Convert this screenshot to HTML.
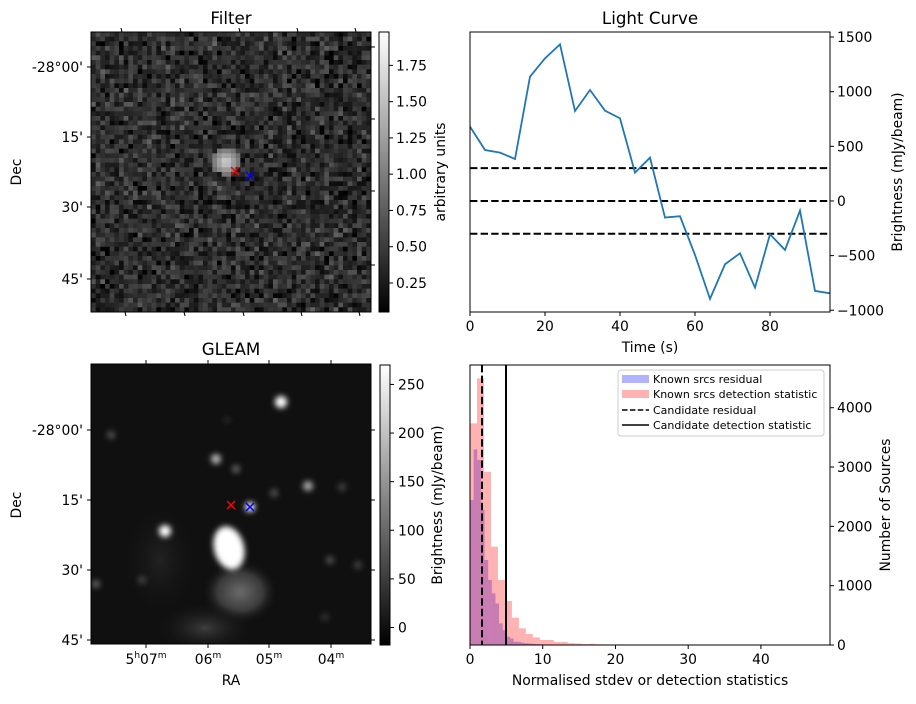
<!DOCTYPE html>
<html><head><meta charset="utf-8"><style>
body{margin:0;background:#fff;}
svg text{font-family:"DejaVu Sans","Liberation Sans",sans-serif;fill:#000;}
</style></head><body>
<svg id="fig" width="916" height="699" xmlns="http://www.w3.org/2000/svg">
<defs>
<linearGradient id="cbg" x1="0" y1="1" x2="0" y2="0"><stop offset="0" stop-color="#000"/><stop offset="1" stop-color="#fff"/></linearGradient>
<filter id="blur2" x="-50%" y="-50%" width="200%" height="200%"><feGaussianBlur stdDeviation="3"/></filter>
<radialGradient id="tail1"><stop offset="0" stop-color="#6a6a6a"/><stop offset="0.6" stop-color="#3a3a3a"/><stop offset="1" stop-color="#111" stop-opacity="0"/></radialGradient>
<radialGradient id="tail2"><stop offset="0" stop-color="#3e3e3e"/><stop offset="1" stop-color="#111" stop-opacity="0"/></radialGradient>
<clipPath id="gclip"><rect x="91" y="364" width="280" height="280"/></clipPath>
</defs>

<!-- Filter panel -->
<text x="231" y="24" font-size="16.7" text-anchor="middle">Filter</text>
<g id="filterImg"></g>
<rect x="91" y="32" width="280" height="280" fill="none" stroke="#000" stroke-width="1"/>
<g id="filterTicks"></g>
<path d="M231,167 l8,8 M239,167 l-8,8" stroke="red" stroke-width="1.5"/>
<path d="M246,172 l8,8 M254,172 l-8,8" stroke="blue" stroke-width="1.5"/>
<text transform="translate(21,172) rotate(-90)" font-size="13.9" text-anchor="middle">Dec</text>
<rect x="379" y="32" width="10" height="280" fill="url(#cbg)" stroke="#000" stroke-width="1"/>
<g id="filterCb"></g>
<text transform="translate(445,172) rotate(-90)" font-size="13.9" text-anchor="middle">arbitrary units</text>

<!-- GLEAM panel -->
<text x="231" y="355" font-size="16.7" text-anchor="middle">GLEAM</text>
<g clip-path="url(#gclip)">
<rect x="91" y="364" width="280" height="280" fill="#101010"/>
<ellipse cx="240" cy="592" rx="38" ry="32" fill="url(#tail1)"/>
<ellipse cx="205" cy="628" rx="50" ry="26" fill="url(#tail2)"/>
<ellipse cx="160" cy="560" rx="40" ry="60" fill="url(#tail2)" opacity="0.4"/>
<g filter="url(#blur2)">
<circle cx="281" cy="402" r="6" fill="#fff"/>
<circle cx="216" cy="459" r="5" fill="#bbb"/>
<circle cx="236" cy="469" r="4" fill="#666"/>
<circle cx="308" cy="486" r="5" fill="#aaa"/>
<circle cx="165" cy="531" r="6" fill="#fff"/>
<circle cx="250" cy="507" r="5" fill="#fff"/>
<circle cx="111" cy="435" r="4" fill="#555"/>
<circle cx="96" cy="584" r="4" fill="#666"/>
<circle cx="330" cy="560" r="4" fill="#555"/>
<circle cx="274" cy="493" r="4" fill="#555"/>
<circle cx="342" cy="487" r="4" fill="#444"/>
<circle cx="142" cy="580" r="4" fill="#444"/>
<circle cx="358" cy="565" r="4" fill="#444"/>
<circle cx="227" cy="420" r="3" fill="#333"/>
<circle cx="325" cy="617" r="4" fill="#333"/>
<ellipse cx="229" cy="548" rx="15" ry="22" transform="rotate(-15 229 548)" fill="#fff"/>
</g>
</g>
<rect x="91" y="364" width="280" height="280" fill="none" stroke="#000"/>
<g id="gleamTicks"></g>
<path d="M227,501 l8,8 M235,501 l-8,8" stroke="red" stroke-width="1.5"/>
<path d="M246,503 l8,8 M254,503 l-8,8" stroke="blue" stroke-width="1.5"/>
<text transform="translate(21,505) rotate(-90)" font-size="13.9" text-anchor="middle">Dec</text>
<text x="231" y="685" font-size="13.9" text-anchor="middle">RA</text>
<rect x="380" y="365" width="10" height="280" fill="url(#cbg)" stroke="#000"/>
<g id="gleamCb"></g>
<text transform="translate(442,505) rotate(-90)" font-size="13.9" text-anchor="middle">Brightness (mJy/beam)</text>

<!-- Light curve -->
<text x="650" y="24" font-size="16.7" text-anchor="middle">Light Curve</text>
<g id="lc"></g>
<text x="650" y="352" font-size="13.9" text-anchor="middle">Time (s)</text>
<text transform="translate(902,172) rotate(-90)" font-size="13.9" text-anchor="middle">Brightness (mJy/beam)</text>

<!-- Histogram -->
<g id="hist"></g>
<text x="650" y="685" font-size="13.9" text-anchor="middle">Normalised stdev or detection statistics</text>
<text transform="translate(890,505) rotate(-90)" font-size="13.9" text-anchor="middle">Number of Sources</text>
<g>
<rect x="618" y="370" width="206" height="66" rx="3" fill="#fff" fill-opacity="0.8" stroke="#ccc"/>
<rect x="622" y="375" width="27" height="8" fill="rgba(0,0,255,0.3)"/>
<text x="653" y="383" font-size="11">Known srcs residual</text>
<rect x="622" y="390" width="27" height="8" fill="rgba(255,0,0,0.3)"/>
<text x="653" y="398" font-size="11">Known srcs detection statistic</text>
<line x1="622" y1="410" x2="649" y2="410" stroke="#000" stroke-width="1.5" stroke-dasharray="5.5,2.4"/>
<text x="653" y="414" font-size="11">Candidate residual</text>
<line x1="622" y1="425" x2="649" y2="425" stroke="#000" stroke-width="1.5"/>
<text x="653" y="429" font-size="11">Candidate detection statistic</text>
</g>
</svg>
<script>
const NS='http://www.w3.org/2000/svg';
// Light curve data
const lcTimes=[0,4,8,12,16,20,24,28,32,36,40,44,48,52,56,60,64,68,72,76,80,84,88,92,96];
const lcFlux=[680,466,442,384,1137,1305,1433,823,1015,826,756,259,396,-152,-140,-494,-896,-579,-479,-793,-305,-448,-88,-823,-845];
const lcLevels=[300,0,-300];
const lcXTicks=[0,20,40,60,80];
const lcYTicks=[1500,1000,500,0,-500,-1000];
// Histogram data
const redEdgesStart=0, redWidth=0.96;
const redCounts=[3736,4494,2921,1657,1096,742,461,281,185,129,84,84,50,50,30,25,15,20,12,10,8,10,6,8,5,5,3,4,5,3,4,2,3,4,2,3,2,2,3,2,1,2,2,1,2,1,2,2];
const blueWidth=0.5;
const blueCounts=[2444,3298,3120,2275,1433,1096,870,700,365,250,140,110,55,55,40,30,25,20,15,12,10,8,8,6,5,5,4,4,3,3];
const candResidual=1.65, candDetection=4.95;
const hXTicks=[0,10,20,30,40];
const hYTicks=[0,1000,2000,3000,4000];
// Colorbar ticks
const filterCbTicks=[0.25,0.5,0.75,1.0,1.25,1.5,1.75];
const gleamCbTicks=[0,50,100,150,200,250];
const decLabels=["-28°00'","15'","30'","45'"];
const raLabels=["07","06","05","04"];

function el(tag,attrs,parent,txt){const e=document.createElementNS(NS,tag);for(const k in attrs)e.setAttribute(k,attrs[k]);if(txt!==undefined)e.textContent=txt;parent.appendChild(e);return e;}

// ---- Light curve
(function(){
 const g=document.getElementById('lc');
 const X0=470,X1=830,Y0=32,Y1=312,xmin=0,xmax=96,ymin=-1016,ymax=1546;
 const sx=v=>X0+(v-xmin)/(xmax-xmin)*(X1-X0);
 const sy=v=>Y1-(v-ymin)/(ymax-ymin)*(Y1-Y0);
 lcLevels.forEach(v=>{const l=el('line',{x1:X0,x2:X1,y1:sy(v),y2:sy(v),stroke:'#000','stroke-width':2,'stroke-dasharray':'7.4,3.2'},g);
  
  });
 const p=el('polyline',{points:lcTimes.map((t,i)=>sx(t)+','+sy(lcFlux[i])).join(' '),fill:'none',stroke:'#1f77b4','stroke-width':1.8},g);
 
 
 el('rect',{x:X0,y:Y0,width:X1-X0,height:Y1-Y0,fill:'none',stroke:'#000'},g);
 lcXTicks.forEach(v=>{el('line',{x1:sx(v),x2:sx(v),y1:Y1,y2:Y1+4,stroke:'#000'},g);
  const t=el('text',{x:sx(v),y:Y1+19,'font-size':13.9,'text-anchor':'middle'},g,String(v));
  
  });
 lcYTicks.forEach(v=>{el('line',{x1:X1,x2:X1+4,y1:sy(v),y2:sy(v),stroke:'#000'},g);
  const t=el('text',{x:X1+7,y:sy(v)+5,'font-size':13.9},g,String(v).replace('-','−'));
  
  });
})();

// ---- Histogram
(function(){
 const g=document.getElementById('hist');
 const X0=470,X1=830,Y0=365,Y1=645,xmin=0,xmax=49.5,ymin=0,ymax=4720;
 const sx=v=>X0+(v-xmin)/(xmax-xmin)*(X1-X0);
 const sy=v=>Y1-(v-ymin)/(ymax-ymin)*(Y1-Y0);
 blueCounts.forEach((c,i)=>{const r=el('rect',{x:sx(i*blueWidth),y:sy(c),width:sx((i+1)*blueWidth)-sx(i*blueWidth),height:Y1-sy(c),fill:'rgba(0,0,255,0.3)'},g);
  
  });
 redCounts.forEach((c,i)=>{const a=redEdgesStart+i*redWidth;const r=el('rect',{x:sx(a),y:sy(c),width:sx(a+redWidth)-sx(a),height:Y1-sy(c),fill:'rgba(255,0,0,0.3)'},g);
  
  });
 let l=el('line',{x1:sx(candResidual),x2:sx(candResidual),y1:Y0,y2:Y1,stroke:'#000','stroke-width':2,'stroke-dasharray':'7.4,3.2'},g);
 
 
 l=el('line',{x1:sx(candDetection),x2:sx(candDetection),y1:Y0,y2:Y1,stroke:'#000','stroke-width':2},g);
 
 
 el('rect',{x:X0,y:Y0,width:X1-X0,height:Y1-Y0,fill:'none',stroke:'#000'},g);
 hXTicks.forEach(v=>{el('line',{x1:sx(v),x2:sx(v),y1:Y1,y2:Y1+4,stroke:'#000'},g);
  const t=el('text',{x:sx(v),y:Y1+19,'font-size':13.9,'text-anchor':'middle'},g,String(v));
  
  });
 hYTicks.forEach(v=>{el('line',{x1:X1,x2:X1+4,y1:sy(v),y2:sy(v),stroke:'#000'},g);
  const t=el('text',{x:X1+7,y:sy(v)+5,'font-size':13.9},g,String(v));
  
  });
})();

// ---- Filter noise image (texture)
(function(){
 const g=document.getElementById('filterImg');
 let s=12345;const rnd=()=>{s=(s*1103515245+12345)%2147483648;return s/2147483648;};
 const N=60,px=280/N;let html='';
 for(let j=0;j<N;j++)for(let i=0;i<N;i++){
  let v=(rnd()+rnd()+rnd())/3; v=Math.max(0,Math.min(1,(v-0.15)*0.5));
  const cx=91+i*px+px/2, cy=32+j*px+px/2;
  const d=Math.hypot(cx-226,cy-162);
  if(d<14)v=Math.max(v,0.85-d*0.03);
  const c=Math.round(v*255);
  html+=`<rect x="${(91+i*px).toFixed(2)}" y="${(32+j*px).toFixed(2)}" width="${(px+0.3).toFixed(2)}" height="${(px+0.3).toFixed(2)}" fill="rgb(${c},${c},${c})"/>`;
 }
 g.innerHTML=html;
})();

// ---- Axes for image panels
(function(){
 const f=document.getElementById('filterTicks');
 const decY=[67,137,207,279];
 decY.forEach((y,i)=>{el('line',{x1:87,x2:91,y1:y,y2:y,stroke:'#000'},f);el('line',{x1:371,x2:375,y1:y+Math.round(i*2-20),y2:y+Math.round(i*2-20),stroke:'#000'},f);
  el('text',{x:83,y:y+5,'font-size':13.9,'text-anchor':'end'},f,decLabels[i]);});
 [121,180,239,297,355].forEach(x=>{el('line',{x1:x,x2:x+1,y1:28,y2:32,stroke:'#000'},f);el('line',{x1:x+4,x2:x+5,y1:312,y2:316,stroke:'#000'},f);});
 const cb=document.getElementById('filterCb');
 const fy=v=>312-(v-0.05)/(1.98-0.05)*280;
 filterCbTicks.forEach(v=>{el('line',{x1:389,x2:393,y1:fy(v),y2:fy(v),stroke:'#000'},cb);el('text',{x:396,y:fy(v)+5,'font-size':13.9},cb,v.toFixed(2));});

 const g=document.getElementById('gleamTicks');
 const decY2=[430,500,570,640];
 decY2.forEach((y,i)=>{el('line',{x1:87,x2:91,y1:y,y2:y,stroke:'#000'},g);el('line',{x1:371,x2:375,y1:y,y2:y,stroke:'#000'},g);
  el('text',{x:83,y:y+5,'font-size':13.9,'text-anchor':'end'},g,decLabels[i]);});
 const raX=[146,208,269,331];
 raX.forEach((x,i)=>{el('line',{x1:x,x2:x,y1:644,y2:648,stroke:'#000'},g);el('line',{x1:x,x2:x,y1:360,y2:364,stroke:'#000'},g);
  const t=el('text',{x:x,y:664,'font-size':13.9,'text-anchor':'middle'},g);
  if(i===0){t.innerHTML='5<tspan font-size="9" dy="-6">h</tspan><tspan dy="6">07</tspan><tspan font-size="9" dy="-6">m</tspan>';}
  else{t.innerHTML=raLabels[i]+'<tspan font-size="9" dy="-6">m</tspan>';}});
 const cb2=document.getElementById('gleamCb');
 const gy=v=>645-(v+18)/(270+18)*280;
 gleamCbTicks.forEach(v=>{el('line',{x1:390,x2:394,y1:gy(v),y2:gy(v),stroke:'#000'},cb2);el('text',{x:398,y:gy(v)+5,'font-size':13.9},cb2,String(v));});
})();
</script>
</body></html>
